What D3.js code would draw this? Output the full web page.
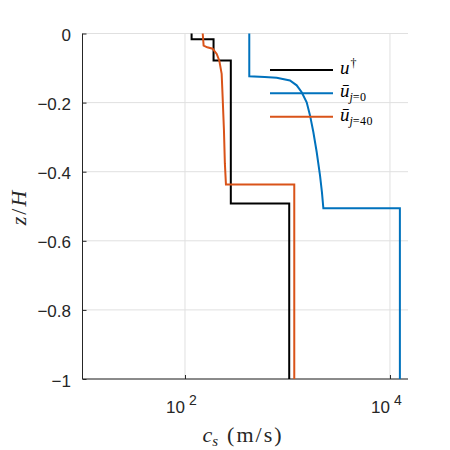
<!DOCTYPE html>
<html>
<head>
<meta charset="utf-8">
<script src="https://cdn.jsdelivr.net/npm/d3@7"></script>
<style>
  body { margin: 0; background: #fff; }
  svg { display: block; }
</style>
</head>
<body>
<div id="chart"></div>
<script>
// u-dagger profile (black step function)
const zTrue = [0, -0.017, -0.017, -0.078, -0.078, -0.492, -0.492, -1];
const cTrue = [116, 116, 190, 190, 280, 280, 1040, 1040];

// u-bar j=0 (blue)
const zJ0 = [0, -0.124, -0.126, -0.128, -0.136, -0.150, -0.170, -0.199, -0.237, -0.285, -0.343, -0.410, -0.460, -0.506, -0.506, -1];
const cJ0 = [424, 424, 600, 785, 1057, 1230, 1377, 1540, 1660, 1788, 1928, 2076, 2170, 2240, 12500, 12500];

// u-bar j=40 (orange)
const zJ40 = [0, -0.035, -0.040, -0.044, -0.059, -0.078, -0.117, -0.184, -0.280, -0.376, -0.437, -0.437, -1];
const cJ40 = [149, 152, 165, 186, 204, 216, 228, 233, 240, 245, 251, 1165, 1165];

const yTicks = [0, -0.2, -0.4, -0.6, -0.8, -1];
const yTickLabels = ["0", "\u22120.2", "\u22120.4", "\u22120.6", "\u22120.8", "\u22121"];
const xTicks = [1e2, 1e4];
const xTickExp = ["2", "4"];

const w = 450, h = 450;
const mLeft = 82.5, mRight = 408, mTop = 33.5, mBottom = 379;

const svg = d3.select("#chart").append("svg")
  .attr("width", w)
  .attr("height", h);

const xScale = d3.scaleLog().domain([10, 15000]).range([mLeft, mRight]);
const yScale = d3.scaleLinear().domain([-1, 0]).range([mBottom, mTop]);

// grid
svg.append("g").selectAll("line")
  .data(yTicks)
  .enter().append("line")
  .attr("x1", mLeft).attr("x2", mRight)
  .attr("y1", d => yScale(d)).attr("y2", d => yScale(d))
  .attr("stroke", "#e0e0e0").attr("stroke-width", 1);
svg.append("g").selectAll("line")
  .data(xTicks)
  .enter().append("line")
  .attr("x1", d => xScale(d)).attr("x2", d => xScale(d))
  .attr("y1", mTop).attr("y2", mBottom)
  .attr("stroke", "#e0e0e0").attr("stroke-width", 1);

// axes (inward ticks, matlab style)
const axisL = d3.axisRight(yScale).tickValues(yTicks).tickSize(4).tickFormat("");
const axisB = d3.axisTop(xScale).tickValues(xTicks).tickSize(4).tickFormat("");

const gL = svg.append("g").attr("transform", `translate(${mLeft},0)`).call(axisL);
const gB = svg.append("g").attr("transform", `translate(0,${mBottom})`).call(axisB);
[gL, gB].forEach(g => {
  g.select(".domain").attr("stroke", "#262626");
  g.selectAll(".tick line").attr("stroke", "#262626");
});
gL.select(".domain").attr("d", `M0,${mTop}V${mBottom}`);
gB.select(".domain").attr("d", `M${mLeft},0H${mRight}`);

// y tick labels
svg.append("g").selectAll("text")
  .data(yTicks)
  .enter().append("text")
  .attr("x", 71)
  .attr("y", d => yScale(d) + 7.5)
  .attr("text-anchor", "end")
  .attr("font-family", "Liberation Sans, Arial, sans-serif")
  .attr("font-size", 17)
  .attr("fill", "#262626")
  .text((d, i) => yTickLabels[i]);

// x tick labels 10^n
const xt = svg.append("g").selectAll("text")
  .data(xTicks)
  .enter().append("text")
  .attr("x", d => xScale(d) - 19)
  .attr("y", 413)
  .attr("text-anchor", "start")
  .attr("font-family", "Liberation Sans, Arial, sans-serif")
  .attr("font-size", 17)
  .attr("fill", "#262626");
xt.append("tspan").text("10");
xt.append("tspan").attr("dx", 4).attr("dy", -8).attr("font-size", 14).text((d, i) => xTickExp[i]);

// lines
const line = d3.line()
  .x(d => xScale(d[1]))
  .y(d => yScale(d[0]));

const series = [
  { z: zTrue, c: cTrue, color: "#000000" },
  { z: zJ0, c: cJ0, color: "#0072BD" },
  { z: zJ40, c: cJ40, color: "#D95319" }
];

svg.append("g").selectAll("path")
  .data(series)
  .enter().append("path")
  .attr("d", s => line(s.z.map((z, i) => [z, s.c[i]])))
  .attr("fill", "none")
  .attr("stroke", s => s.color)
  .attr("stroke-width", 2);

// legend
const serif = "Liberation Serif, Times New Roman, serif";
const legY = [70, 93.3, 116.7];
const leg = svg.append("g");
leg.selectAll("line")
  .data(series)
  .enter().append("line")
  .attr("x1", 270).attr("x2", 333)
  .attr("y1", (d, i) => legY[i]).attr("y2", (d, i) => legY[i])
  .attr("stroke", d => d.color)
  .attr("stroke-width", 2);

const t0 = leg.append("text").attr("x", 340).attr("y", legY[0] + 4)
  .attr("font-family", serif).attr("font-size", 19).attr("fill", "#000");
t0.append("tspan").attr("font-style", "italic").text("u");
t0.append("tspan").attr("dx", 1).attr("dy", -7).attr("font-size", 12).text("†");

["0", "40"].forEach((sub, i) => {
  const t = leg.append("text").attr("x", 340).attr("y", legY[i + 1] + 4)
    .attr("font-family", serif).attr("font-size", 19).attr("fill", "#000");
  t.append("tspan").attr("font-style", "italic").text("ū");
  t.append("tspan").attr("dy", 4).attr("font-size", 12).attr("font-style", "italic").text("j");
  t.append("tspan").attr("font-size", 12).attr("letter-spacing", 0.5).text("=" + sub);
});

// axis labels
const xl = svg.append("text")
  .attr("x", 243).attr("y", 442)
  .attr("text-anchor", "middle")
  .attr("font-family", serif).attr("font-size", 22).attr("fill", "#262626");
xl.append("tspan").attr("font-style", "italic").text("c");
xl.append("tspan").attr("dy", 4).attr("font-size", 15).attr("font-style", "italic").text("s");
xl.append("tspan").attr("dy", -4).attr("dx", 9).attr("letter-spacing", 2).text("(m/s)");

const yl = svg.append("text")
  .attr("transform", "translate(26,207) rotate(-90)")
  .attr("text-anchor", "middle")
  .attr("font-family", serif).attr("font-size", 22).attr("letter-spacing", 2).attr("fill", "#262626");
yl.append("tspan").attr("font-style", "italic").text("z");
yl.append("tspan").text("/");
yl.append("tspan").attr("font-style", "italic").text("H");
</script>
</body>
</html>
